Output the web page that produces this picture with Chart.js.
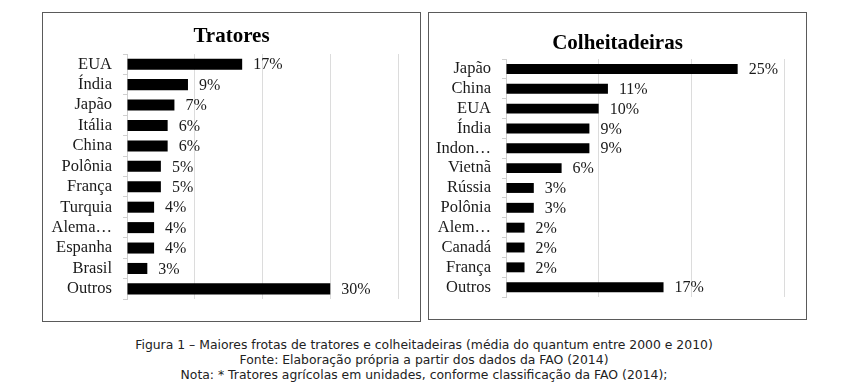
<!DOCTYPE html>
<html>
<head>
<meta charset="utf-8">
<script src="https://cdn.jsdelivr.net/npm/chart.js@4.4.1/dist/chart.umd.min.js"></script>
<style>
  html, body { margin: 0; padding: 0; background: #fff; }
  body { width: 848px; height: 390px; position: relative; overflow: hidden; }
  .painel { position: absolute; border: 1.5px solid #5a5a5a; background: #fff; box-sizing: border-box; }
  #p1 { left: 42px; top: 12px; width: 379px; height: 310px; }
  #p2 { left: 428px; top: 12px; width: 379px; height: 308px; }
  .painel canvas { display: block; position: absolute; left: 0; top: 0; }
  .titulo { position: absolute; left: 0; width: 100%; text-align: center; z-index: 2;
    font-family: "Liberation Serif", "Times New Roman", serif; font-weight: bold; font-size: 21px; line-height: 24px; color: #000; }
  #p1 .titulo { top: 10px; }
  #p2 .titulo { top: 17px; }
  #legenda { position: absolute; left: 0; top: 337px; width: 848px; text-align: center;
    font-family: "DejaVu Sans", Verdana, sans-serif; font-size: 12.4px; line-height: 15px; color: #222; }
</style>
</head>
<body>
<div class="painel" id="p1"><canvas id="cTratores"></canvas><div class="titulo">Tratores</div></div>
<div class="painel" id="p2"><canvas id="cColheit"></canvas><div class="titulo">Colheitadeiras</div></div>
<div id="legenda">
  Figura 1 – Maiores frotas de tratores e colheitadeiras (média do quantum entre 2000 e 2010)<br>
  Fonte: Elaboração própria a partir dos dados da FAO (2014)<br>
  Nota: * Tratores agrícolas em unidades, conforme classificação da FAO (2014);
</div>
<script>
// dados
const paisesTratores = ["EUA", "Índia", "Japão", "Itália", "China", "Polônia", "França", "Turquia", "Alema…", "Espanha", "Brasil", "Outros"];
const valoresTratores = [17, 9, 7, 6, 6, 5, 5, 4, 4, 4, 3, 30];
const rotulosTratores = ["17%", "9%", "7%", "6%", "6%", "5%", "5%", "4%", "4%", "4%", "3%", "30%"];

const paisesColheit = ["Japão", "China", "EUA", "Índia", "Indon…", "Vietnã", "Rússia", "Polônia", "Alem…", "Canadá", "França", "Outros"];
const valoresColheit = [25, 11, 10, 9, 9, 6, 3, 3, 2, 2, 2, 17];
const rotulosColheit = ["25%", "11%", "10%", "9%", "9%", "6%", "3%", "3%", "2%", "2%", "2%", "17%"];

const SERIF = '"Liberation Serif", "Times New Roman", serif';

// escreve o percentual na ponta de cada barra
const rotuloBarra = {
  id: "rotuloBarra",
  afterDatasetsDraw(chart) {
    const ctx = chart.ctx;
    const txt = chart.options.plugins.rotuloBarra.labels;
    const meta = chart.getDatasetMeta(0);
    ctx.save();
    ctx.font = "16px " + SERIF;
    ctx.fillStyle = "#1a1a1a";
    ctx.textBaseline = "middle";
    ctx.textAlign = "left";
    meta.data.forEach((bar, i) => {
      ctx.fillText(txt[i], bar.x + 11, bar.y + 1);
    });
    ctx.restore();
  }
};

function montaGrafico(id, w, h, labels, valores, rotulos, cfg) {
  const cv = document.getElementById(id);
  cv.width = w; cv.height = h;
  cv.style.width = w + "px"; cv.style.height = h + "px";
  return new Chart(cv.getContext("2d"), {
    type: "bar",
    data: {
      labels: labels,
      datasets: [{
        data: valores,
        backgroundColor: "#000",
        borderWidth: 0,
        categoryPercentage: 1,
        barPercentage: cfg.barPct
      }]
    },
    plugins: [rotuloBarra],
    options: {
      indexAxis: "y",
      responsive: false,
      animation: false,
      layout: { padding: { left: 0, right: 21, top: cfg.padTop, bottom: cfg.padBottom } },
      plugins: {
        legend: { display: false },
        tooltip: { enabled: false },
        title: { display: false },
        rotuloBarra: { labels: rotulos }
      },
      scales: {
        x: {
          min: 0,
          max: cfg.xMax,
          ticks: { display: false, stepSize: 10 },
          grid: { color: "#dcdcdc", lineWidth: 1, drawTicks: false },
          border: { display: false }
        },
        y: {
          afterFit(scale) { scale.width = cfg.yWidth; },
          ticks: { color: "#1a1a1a", font: { family: SERIF, size: 16.5 }, padding: 11, autoSkip: false },
          grid: { drawOnChartArea: false, drawTicks: true, tickLength: 4, color: "#cfcfcf" },
          border: { color: "#cfcfcf" }
        }
      }
    }
  });
}

montaGrafico("cTratores", 376, 307, paisesTratores, valoresTratores, rotulosTratores,
  { barPct: 0.54, xMax: 40, yWidth: 84, padTop: 41, padBottom: 20 });
montaGrafico("cColheit", 376, 305, paisesColheit, valoresColheit, rotulosColheit,
  { barPct: 0.5, xMax: 30, yWidth: 77, padTop: 46, padBottom: 18 });
</script>
</body>
</html>
